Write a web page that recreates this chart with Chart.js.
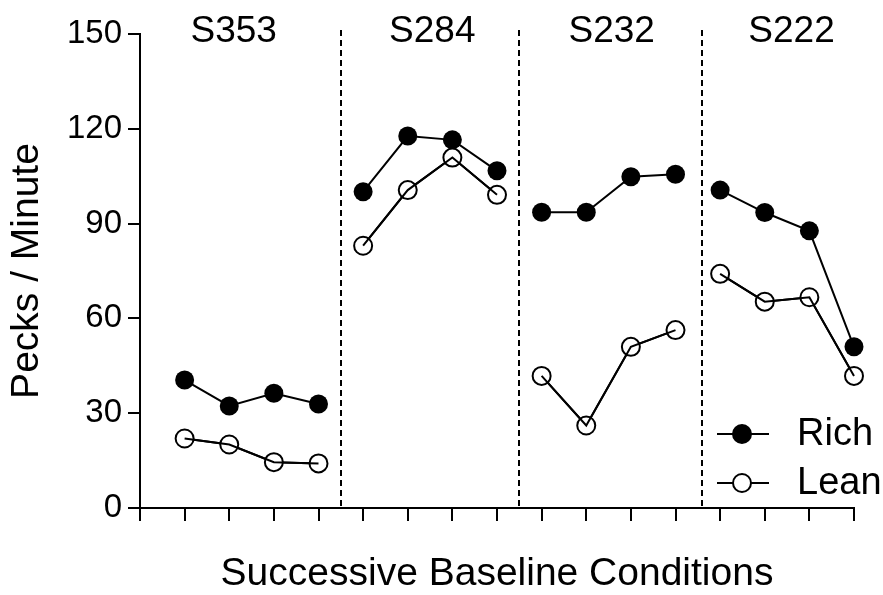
<!DOCTYPE html>
<html>
<head>
<meta charset="utf-8">
<script src="https://cdn.jsdelivr.net/npm/chart.js@4.4.1/dist/chart.umd.min.js"></script>
<style>
  html, body { margin: 0; padding: 0; background: #fff; }
  #wrap { width: 883px; height: 595px; }
</style>
</head>
<body>
<div id="wrap"><canvas id="pecks"></canvas></div>
<script>
const subjects = ["S353", "S284", "S232", "S222"];
const richRates = [
  [40.5, 32.3, 36.3, 32.9],
  [100.1, 117.7, 116.5, 106.7],
  [93.6, 93.6, 104.8, 105.6],
  [100.6, 93.5, 87.7, 51.0],
];
const leanRates = [
  [22.0, 20.1, 14.5, 14.1],
  [83.0, 100.6, 110.9, 99.1],
  [41.8, 26.1, 51.0, 56.3],
  [74.1, 65.3, 66.7, 41.8],
];
const yTicks = [0, 30, 60, 90, 120, 150];

// where the subject names and the dashed phase lines sit (x units)
const subjectLabelX = [2.1, 6.55, 10.57, 14.6];
const dividerX = [4.5, 8.5, 12.6];

const FONT = "'Liberation Sans', Arial, sans-serif";

// one point per session, null between subjects so the line breaks
function toPoints(groups) {
   let pts = [];
   groups.forEach((vals, g) => {
      vals.forEach((v, i) => pts.push({x: g * 4 + i + 1, y: v}));
      if (g < groups.length - 1) pts.push({x: g * 4 + 4.5, y: null});
   });
   return pts;
}

const phasePlugin = {
   id: "phases",
   beforeDatasetsDraw(chart) {
      const {ctx, chartArea, scales} = chart;
      ctx.save();
      ctx.strokeStyle = "#000";
      ctx.lineWidth = 2;
      ctx.setLineDash([6, 4]);
      dividerX.forEach((v) => {
         const x = Math.round(scales.x.getPixelForValue(v));
         ctx.beginPath();
         ctx.moveTo(x, chartArea.top - 4);
         ctx.lineTo(x, chartArea.bottom);
         ctx.stroke();
      });
      ctx.restore();
   },
   afterDraw(chart) {
      const {ctx, scales} = chart;
      ctx.save();
      ctx.fillStyle = "#000";
      ctx.font = "37px " + FONT;
      ctx.textAlign = "center";
      ctx.textBaseline = "alphabetic";
      subjects.forEach((s, i) => {
         ctx.fillText(s, scales.x.getPixelForValue(subjectLabelX[i]), 42);
      });

      // legend, bottom right inside the plot
      const rows = [
         {label: "Rich", fill: "#000", y: 434},
         {label: "Lean", fill: "#fff", y: 483},
      ];
      rows.forEach((r) => {
         ctx.strokeStyle = "#000";
         ctx.lineWidth = 2;
         ctx.beginPath();
         ctx.moveTo(717, r.y);
         ctx.lineTo(769, r.y);
         ctx.stroke();
         ctx.beginPath();
         ctx.arc(742, r.y, 9, 0, Math.PI * 2);
         ctx.fillStyle = r.fill;
         ctx.fill();
         ctx.stroke();
         ctx.fillStyle = "#000";
         ctx.font = "38px " + FONT;
         ctx.textAlign = "left";
         ctx.textBaseline = "middle";
         ctx.fillText(r.label, 797, r.y + 1);
      });
      ctx.restore();
   },
};

const ctx = document.getElementById("pecks").getContext("2d");
const pecksChart = new Chart(ctx, {
   type: "line",
   data: {
      datasets: [
         {
            label: "Rich",
            data: toPoints(richRates),
            borderColor: "#000",
            borderWidth: 2,
            pointRadius: 9.5,
            pointBackgroundColor: "#000",
            pointBorderColor: "#000",
            pointBorderWidth: 0,
            tension: 0,
            clip: false,
            order: 3,
         },
         {
            label: "Lean",
            data: toPoints(leanRates),
            borderColor: "#000",
            borderWidth: 2,
            pointRadius: 9,
            pointBackgroundColor: "#fff",
            pointBorderColor: "#000",
            pointBorderWidth: 2,
            tension: 0,
            clip: false,
            order: 2,
         },
         {
            // lean line again, on top of its own open circles
            label: "Lean line",
            data: toPoints(leanRates),
            borderColor: "#000",
            borderWidth: 2,
            pointRadius: 0,
            tension: 0,
            clip: false,
            order: 1,
         },
      ],
   },
   options: {
      responsive: true,
      maintainAspectRatio: false,
      animation: false,
      layout: {padding: {top: 34, right: 29, left: 0, bottom: 0}},
      scales: {
         x: {
            type: "linear",
            min: 0,
            max: 16,
            afterFit(scale) { scale.height = 87; },
            afterBuildTicks(scale) {
               scale.ticks = [];
               for (let i = 0; i <= 16; i++) scale.ticks.push({value: i});
            },
            ticks: {callback: () => "", padding: 0},
            grid: {drawOnChartArea: false, color: "#000", lineWidth: 2, tickLength: 13},
            border: {color: "#000", width: 2},
            title: {
               display: true,
               text: "Successive Baseline Conditions",
               color: "#000",
               font: {family: FONT, size: 39, lineHeight: 1},
               padding: {top: 0, bottom: 1},
            },
         },
         y: {
            min: 0,
            max: 150,
            afterFit(scale) { scale.width = 140; },
            afterBuildTicks(scale) {
               scale.ticks = yTicks.map((v) => ({value: v}));
            },
            ticks: {color: "#000", font: {family: FONT, size: 33}, padding: 6},
            grid: {drawOnChartArea: false, color: "#000", lineWidth: 2, tickLength: 12},
            border: {color: "#000", width: 2},
            title: {
               display: true,
               text: "Pecks / Minute",
               color: "#000",
               font: {family: FONT, size: 39, lineHeight: 1},
               padding: {top: 8, bottom: 0},
            },
         },
      },
      plugins: {
         legend: {display: false},
         tooltip: {enabled: false},
      },
   },
   plugins: [phasePlugin],
});
</script>
</body>
</html>
